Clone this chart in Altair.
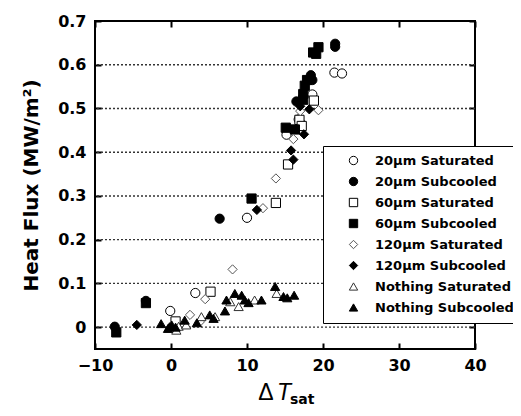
import altair as alt
import pandas as pd

# ---- data ----
series_names = ["20µm Saturated", "20µm Subcooled", "60µm Saturated", "60µm Subcooled",
                "120µm Saturated", "120µm Subcooled", "Nothing Saturated", "Nothing Subcooled"]

s20_sat_x = [-0.1, 3.2, 10.0, 15.2, 16.8, 17.0, 18.6, 21.5, 22.5]
s20_sat_y = [0.037, 0.078, 0.250, 0.440, 0.475, 0.467, 0.532, 0.582, 0.580]

s20_sub_x = [-7.4, -3.3, 6.4, 16.5, 18.4, 18.6, 21.6, 21.6]
s20_sub_y = [0.001, 0.060, 0.248, 0.516, 0.576, 0.565, 0.648, 0.641]

s60_sat_x = [0.6, 5.2, 13.8, 15.4, 16.9, 17.2, 18.8]
s60_sat_y = [0.013, 0.081, 0.284, 0.372, 0.474, 0.460, 0.518]

s60_sub_x = [-7.2, -3.3, 10.6, 15.1, 16.3, 17.4, 17.4, 17.6, 17.9, 18.7, 19.1, 19.4]
s60_sub_y = [-0.012, 0.055, 0.294, 0.456, 0.452, 0.520, 0.533, 0.552, 0.565, 0.628, 0.625, 0.640]

s120_sat_x = [2.5, 3.8, 4.5, 8.1, 12.1, 13.8, 16.1, 17.0, 19.4]
s120_sat_y = [0.028, 0.012, 0.064, 0.132, 0.272, 0.340, 0.430, 0.494, 0.496]

s120_sub_x = [-4.5, 11.3, 15.8, 16.1, 17.5, 17.0, 18.2]
s120_sub_y = [0.005, 0.268, 0.404, 0.383, 0.441, 0.505, 0.498]

noth_sat_x = [0.7, 1.0, 2.0, 4.0, 5.8, 7.8, 8.9, 11.0, 13.9]
noth_sat_y = [-0.007, 0.002, 0.005, 0.024, 0.024, 0.058, 0.047, 0.062, 0.077]

noth_sub_x = [-1.3, -0.4, -0.2, 0.1, 0.6, 1.8, 3.4, 5.1, 5.6, 7.1, 7.3, 8.4, 9.3, 9.7,
              10.2, 11.9, 13.7, 14.8, 15.3, 16.2]
noth_sub_y = [0.008, -0.003, 0.001, 0.005, 0.000, 0.016, 0.010, 0.028, 0.020, 0.037,
              0.062, 0.077, 0.073, 0.062, 0.056, 0.062, 0.093, 0.070, 0.067, 0.073]

x_ticks = [-10, 0, 10, 20, 30, 40]
y_ticks = [0, 0.1, 0.2, 0.3, 0.4, 0.5, 0.6, 0.7]
grid_values = [0, 0.1, 0.2, 0.3, 0.4, 0.5, 0.6]

shapes = ["circle", "circle", "square", "square", "diamond", "diamond", "triangle-up", "triangle-up"]
fills = ["white", "black"] * 4
strokes = ["black", "black", "black", "black", "#555555", "black", "#333333", "black"]

all_x = [s20_sat_x, s20_sub_x, s60_sat_x, s60_sub_x, s120_sat_x, s120_sub_x, noth_sat_x, noth_sub_x]
all_y = [s20_sat_y, s20_sub_y, s60_sat_y, s60_sub_y, s120_sat_y, s120_sub_y, noth_sat_y, noth_sub_y]

rows = []
for i, (name, xs_, ys_) in enumerate(zip(series_names, all_x, all_y)):
    for xv, yv in zip(xs_, ys_):
        rows.append({"dT": xv, "q": yv, "series": name, "order": i})
df = pd.DataFrame(rows)

W, H = 380, 328
xs = alt.Scale(domain=[-10, 40], nice=False, zero=False)
ys = alt.Scale(domain=[-0.05, 0.7], nice=False, zero=False)

FONT = "DejaVu Sans"

def base_axis(**kw):
    d = dict(tickSize=6, tickWidth=2, tickColor="black", domain=False, grid=False,
             labelFont=FONT, labelFontWeight="bold", labelFontSize=16, labelColor="black",
             labelFlush=False, offset=-6)
    d.update(kw)
    return alt.Axis(**d)

# dotted grid lines
grid = alt.Chart(pd.DataFrame({"g": grid_values})).mark_rule(
    color="#333", strokeDash=[2, 2], strokeWidth=1.4
).encode(y=alt.Y("g:Q", scale=ys, axis=None))

# legend shadow (decoration)
shadow = alt.Chart(pd.DataFrame({"k": [0]})).mark_rect(color="black").encode(
    x=alt.value(231), x2=alt.value(424), y=alt.value(128), y2=alt.value(303)
)

leg = dict(title=None, orient="none", legendX=228, legendY=125)

points = alt.Chart(df).mark_point(filled=True, strokeWidth=1, size=85, opacity=1).encode(
    x=alt.X("dT:Q", scale=xs,
            axis=base_axis(orient="bottom", values=x_ticks, labelPadding=8, title=None)),
    y=alt.Y("q:Q", scale=ys,
            axis=base_axis(orient="left", values=y_ticks, format=".1~f", labelPadding=9,
                           title="Heat Flux (MW/m²)", titleFont=FONT, titleFontWeight="bold",
                           titleFontSize=20, titleColor="black", titlePadding=16)),
    shape=alt.Shape("series:N", scale=alt.Scale(domain=series_names, range=shapes),
                    legend=alt.Legend(fillColor="white", strokeColor="black", padding=8,
                                      symbolOffset=16, labelOffset=15, rowPadding=7,
                                      symbolSize=70, symbolStrokeWidth=1,
                                      labelFont=FONT, labelFontWeight="bold", labelFontSize=13,
                                      labelColor="black", labelLimit=300, **leg)),
    fill=alt.Fill("series:N", scale=alt.Scale(domain=series_names, range=fills),
                  legend=alt.Legend(**leg)),
    stroke=alt.Stroke("series:N", scale=alt.Scale(domain=series_names, range=strokes),
                      legend=alt.Legend(**leg)),
    order=alt.Order("order:Q"),
)

# top / right inward ticks
frame_axes = alt.Chart(pd.DataFrame({"tx": [0], "ty": [0]})).mark_point(opacity=0).encode(
    x=alt.X("tx:Q", scale=xs, axis=base_axis(orient="top", values=x_ticks, labels=False, title=None)),
    y=alt.Y("ty:Q", scale=ys, axis=base_axis(orient="right", values=y_ticks, labels=False, title=None)),
)

one = pd.DataFrame({"k": [0]})
t_delta = alt.Chart(one).mark_text(font="Liberation Sans", fontSize=23, color="black",
                                   align="center", baseline="alphabetic").encode(
    x=alt.value(171), y=alt.value(379), text=alt.value("Δ"))
t_T = alt.Chart(one).mark_text(font="Liberation Sans", fontSize=23, fontStyle="italic", color="black",
                               align="center", baseline="alphabetic").encode(
    x=alt.value(189), y=alt.value(379), text=alt.value("T"))
t_sat = alt.Chart(one).mark_text(font=FONT, fontSize=14, fontWeight="bold", color="black",
                                 align="left", baseline="alphabetic").encode(
    x=alt.value(195), y=alt.value(383), text=alt.value("sat"))

chart = alt.layer(grid, shadow, points, frame_axes, t_delta, t_T, t_sat).resolve_scale(
    x="independent", y="independent"
).properties(
    width=W, height=H,
    autosize=alt.AutoSizeParams(type="none"),
    padding={"left": 87, "top": 13, "right": 38, "bottom": 59},
).configure_view(stroke="black", strokeWidth=2)

chart.save("out.html", embed_options={"renderer": "svg", "actions": False})
